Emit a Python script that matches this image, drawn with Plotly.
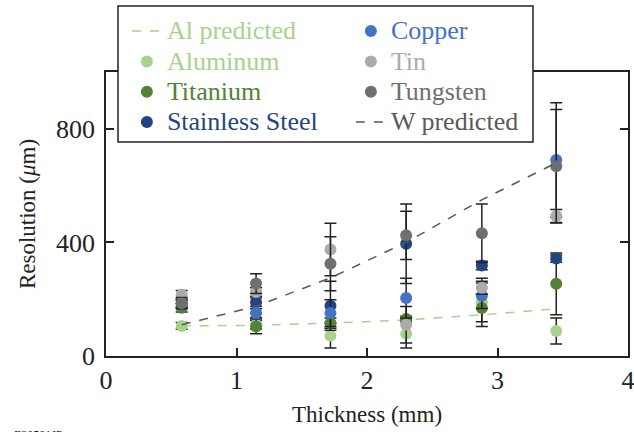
import plotly.graph_objects as go

thickness = [0.58, 1.15, 1.72, 2.30, 2.88, 3.45]

aluminum = [106, 110, 71, 78, 189, 88]
titanium = [170, 104, 116, 130, 169, 254]
stainless = [184, 189, 177, 395, 319, 343]
copper = [184, 151, 151, 204, 212, 690]
tin = [216, 225, 375, 110, 240, 493]
tungsten = [186, 255, 325, 425, 432, 668]

aluminum_err = [12, 15, 43, 50, 85, 46]
titanium_err = [15, 26, 18, 10, 48, 109]
stainless_err = [12, 15, 86, 140, 15, 13]
copper_err = [12, 15, 47, 70, 45, 202]
tin_err = [15, 15, 92, 64, 23, 23]
tungsten_err = [20, 35, 95, 85, 103, 200]

al_pred = [106, 108, 116, 127, 145, 166]
w_pred = [110, 175, 275, 400, 550, 680]

FONT = "Liberation Serif"
fig = go.Figure()

def lbl(text, color):
    return f"<span style='color:{color};font-size:26px'>{text}</span>"

fig.add_trace(go.Scatter(x=thickness, y=al_pred, mode="lines",
                         line=dict(color="#a9d18e", width=1.5, dash="dash"),
                         name=lbl("Al predicted", "#a9d18e"), legendrank=1))

series = [
    ("Aluminum", aluminum, aluminum_err, "#a9d18e", 3),
    ("Titanium", titanium, titanium_err, "#538135", 5),
    ("Stainless Steel", stainless, stainless_err, "#1f4680", 7),
    ("Copper", copper, copper_err, "#4472c4", 2),
    ("Tin", tin, tin_err, "#aeaaaa", 4),
    ("Tungsten", tungsten, tungsten_err, "#6d7070", 6),
]
for name, vals, errs, col, rank in series:
    fig.add_trace(go.Scatter(
        x=thickness, y=vals, mode="markers",
        marker=dict(color=col, size=12, line=dict(width=0)),
        error_y=dict(type="data", array=errs, visible=True, color="#222222",
                     thickness=1.5, width=6),
        name=lbl(name, col), legendrank=rank))

fig.add_trace(go.Scatter(x=thickness, y=w_pred, mode="lines",
                         line=dict(color="#595959", width=1.5, dash="dash"),
                         name=lbl("W predicted", "#595959"), legendrank=8))

axis_common = dict(showline=True, linecolor="#222222", linewidth=1.5, mirror="ticks",
                   ticks="inside", ticklen=8, tickwidth=1.5, tickcolor="#222222",
                   showgrid=False, zeroline=False, automargin=False,
                   ticklabeloverflow="allow",
                   tickfont=dict(family=FONT, size=26, color="#222222"))

fig.update_layout(
    width=634, height=432,
    margin=dict(l=106, r=6, t=72, b=76, autoexpand=False),
    paper_bgcolor="white", plot_bgcolor="white",
    font=dict(family=FONT, size=22, color="#222222"),
    xaxis=dict(range=[0, 4], tickvals=[0, 1, 2, 3, 4],
               title=dict(text="Thickness (mm)", font=dict(family=FONT, size=23), standoff=12),
               **axis_common),
    yaxis=dict(range=[0, 1000], tickvals=[0, 400, 800], ticklabelstandoff=4,
               title=dict(text="Resolution (<i>μ</i>m)", font=dict(family=FONT, size=23), standoff=14),
               **axis_common),
    legend=dict(orientation="h", x=0.04, y=1.215, xanchor="left", yanchor="top",
                entrywidth=179, entrywidthmode="pixels",
                bgcolor="rgba(0,0,0,0)", borderwidth=0,
                font=dict(family=FONT, size=21), tracegroupgap=0,
                itemwidth=30),
    showlegend=True,
)

# legend box (white, opaque, black border)
fig.add_shape(type="rect", xref="paper", yref="paper",
              x0=0.023, x1=0.818, y0=0.7535, y1=1.2324,
              fillcolor="white", line=dict(color="#222222", width=1.5), layer="above")

fig.add_annotation(text="E30591JP", xref="paper", yref="paper", x=-0.18, y=-0.245,
                   xanchor="left", yanchor="top", showarrow=False,
                   font=dict(family=FONT, size=12, color="#222222"))

fig.write_html("out.html", config={"displayModeBar": False},
               post_script="document.body.style.margin='0';"
                           "document.documentElement.style.overflow='hidden';")
